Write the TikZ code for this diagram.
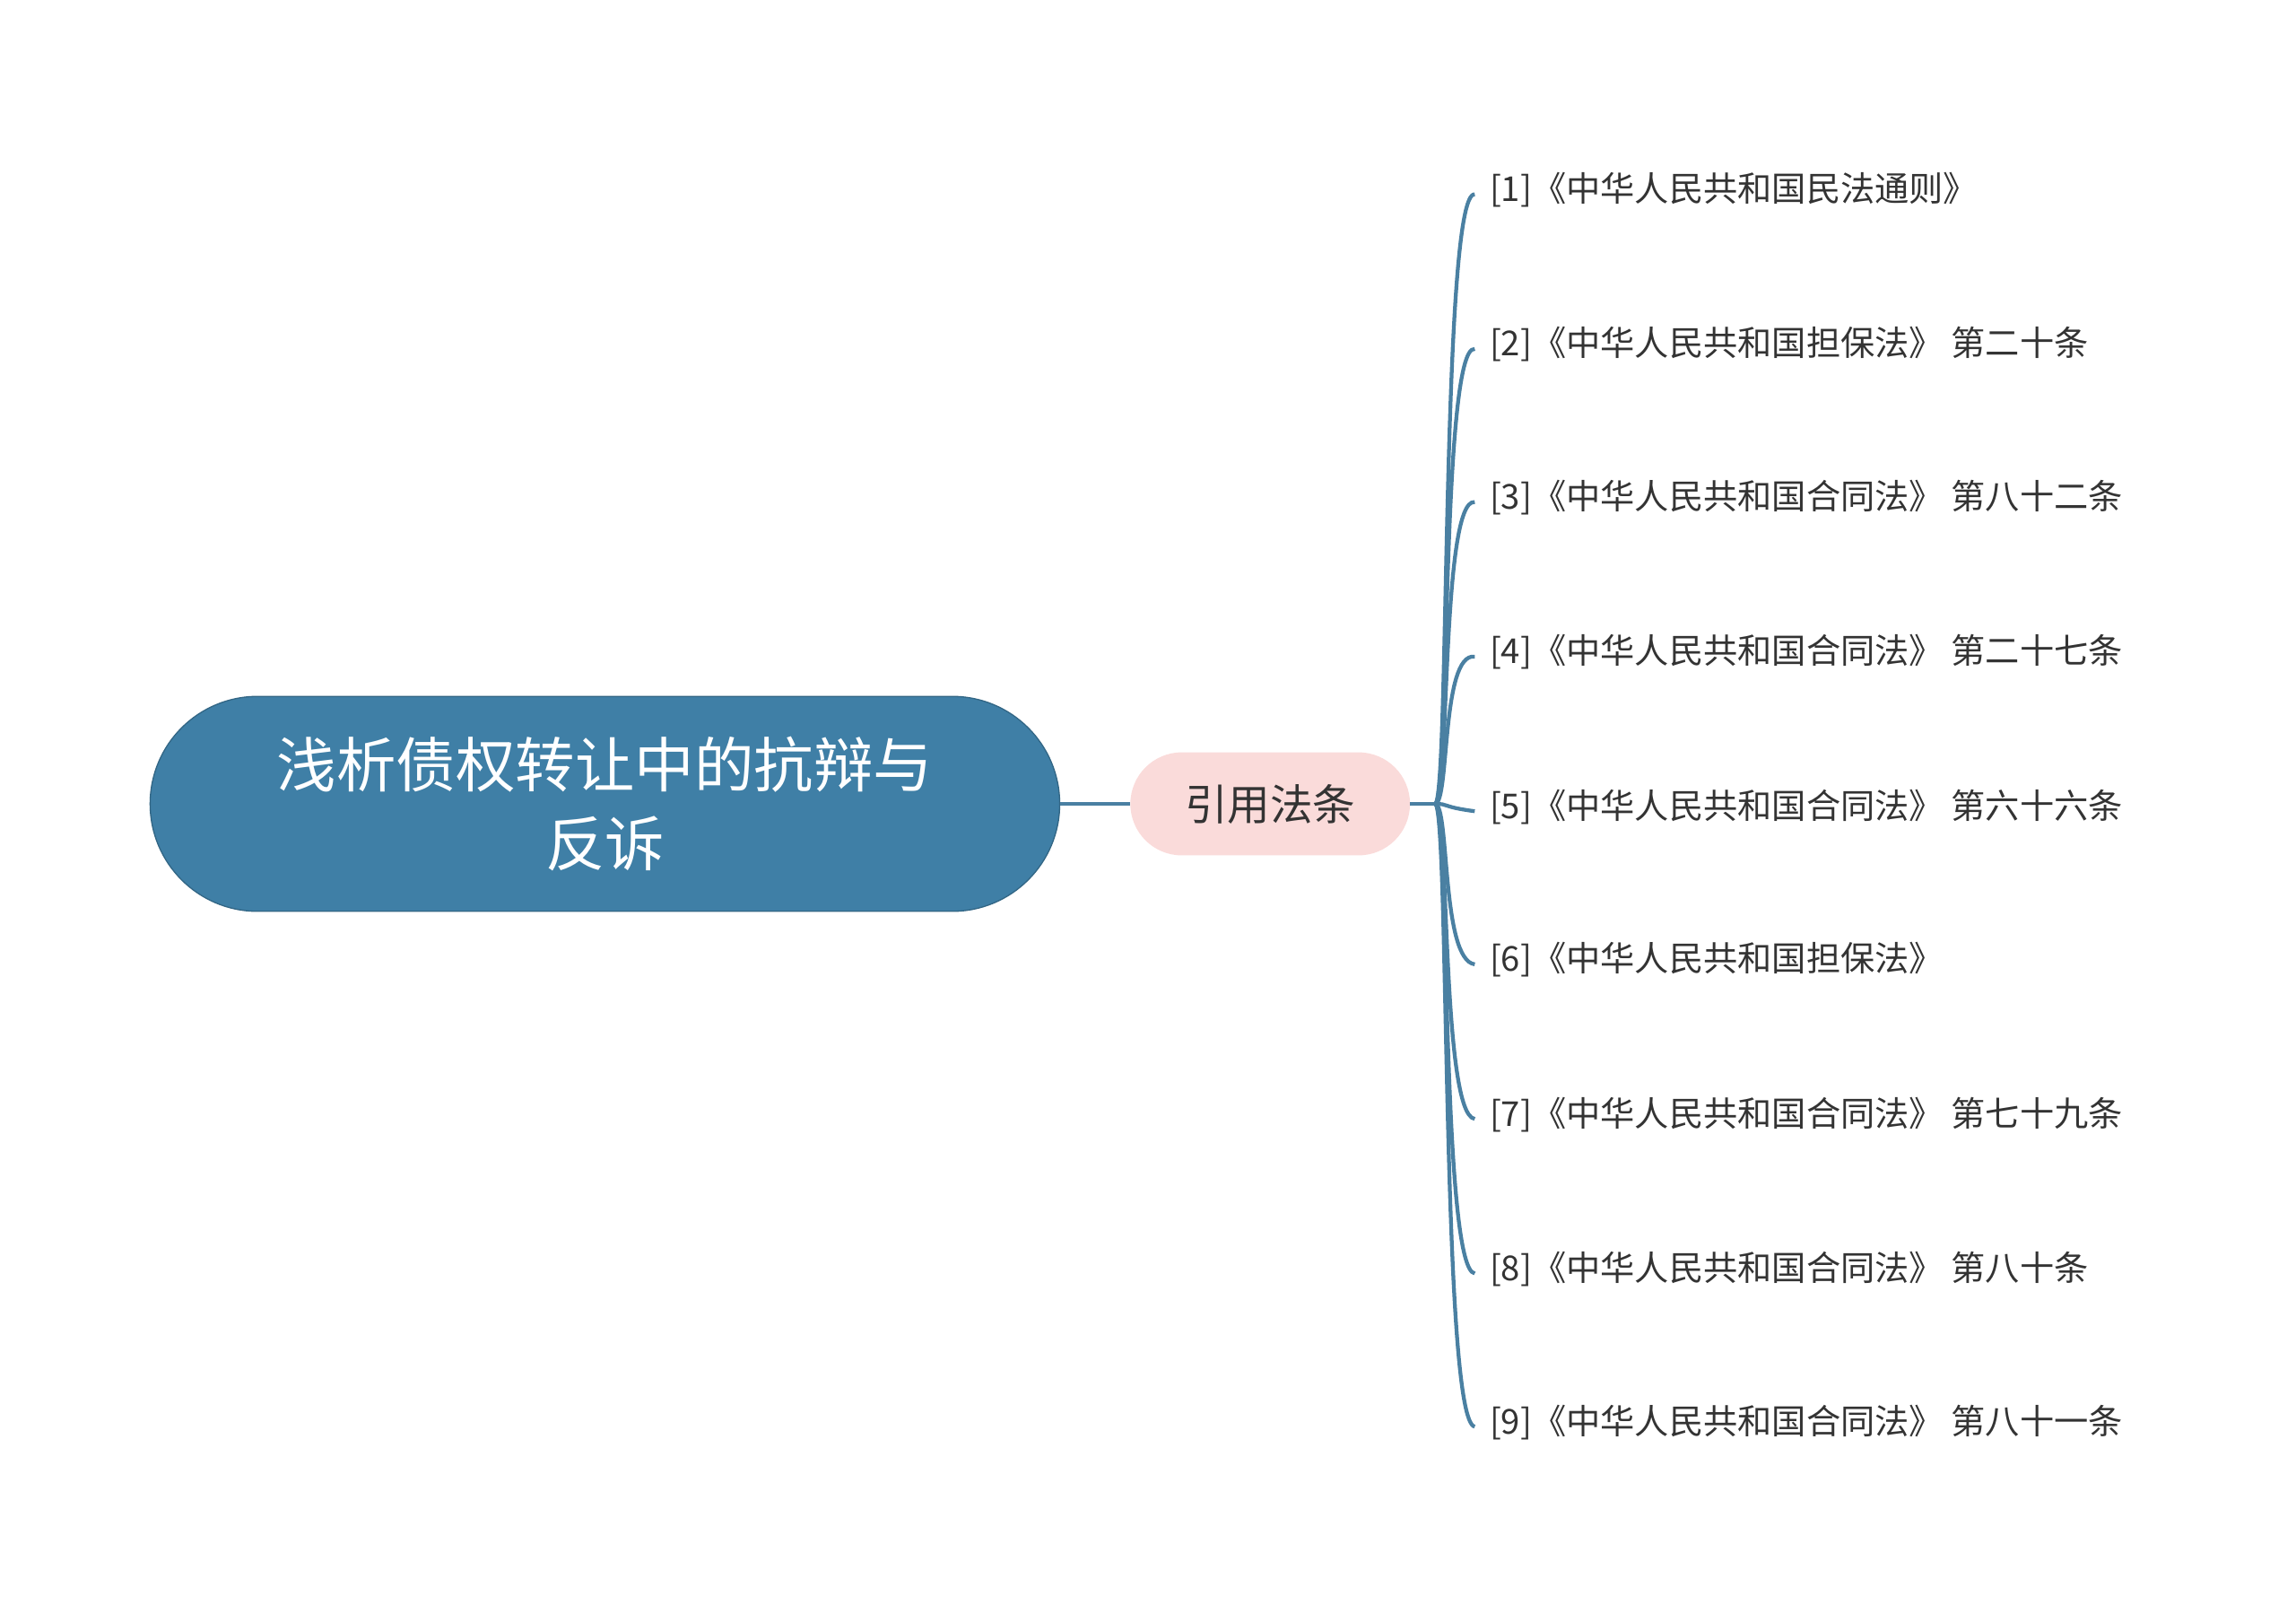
\documentclass[tikz,border=0pt]{standalone}
\usepackage{fontspec}
\setmainfont{Noto Sans CJK SC}
\definecolor{rootc}{HTML}{3F7FA6}
\definecolor{midc}{HTML}{FADBDA}
\definecolor{linec}{HTML}{4A80A2}
\definecolor{txt}{HTML}{333333}
\begin{document}
\begin{tikzpicture}[x=1pt,y=-1pt,
  root/.style={draw=rootc!80!black,fill=rootc,rounded corners=73pt,minimum width=618pt,minimum height=146pt,text=white,font=\fontsize{40.5}{54}\selectfont,align=center,text width=500pt,line width=0.8pt},
  mid/.style={fill=midc,rounded corners=35pt,minimum width=190pt,minimum height=70pt,text=txt,font=\fontsize{29}{34}\selectfont},
  leaf/.style={anchor=west,text=txt,font=\fontsize{23.3}{27}\selectfont,inner sep=2pt},
  conn/.style={draw=linec,line width=3pt}]
\useasboundingbox (0,0) rectangle (1560,1090);
\node[root] (root) at (411,546) {浅析债权转让中的抗辩与\\反诉};
\node[mid] (mid) at (863,546) {引用法条};
\draw[conn] (root.east) -- (mid.west);
\coordinate (j) at (975,546);
\draw[conn] (mid.east) -- (j);
\foreach \i/\y/\t in {1/129/{[1]《中华人民共和国民法通则》},
 2/234/{[2]《中华人民共和国担保法》 第二十条},
 3/338/{[3]《中华人民共和国合同法》 第八十二条},
 4/443/{[4]《中华人民共和国合同法》 第二十七条},
 5/548/{[5]《中华人民共和国合同法》 第六十六条},
 6/652/{[6]《中华人民共和国担保法》},
 7/757/{[7]《中华人民共和国合同法》 第七十九条},
 8/862/{[8]《中华人民共和国合同法》 第八十条},
 9/966/{[9]《中华人民共和国合同法》 第八十一条}}{
  \node[leaf] (l\i) at (1010,\y) {\t};
  \draw[conn,line width=2.6pt] (j) .. controls (985,546) and (979,\y) .. ([xshift=-8pt,yshift=-3pt]l\i.west);
}
\end{tikzpicture}
\end{document}
